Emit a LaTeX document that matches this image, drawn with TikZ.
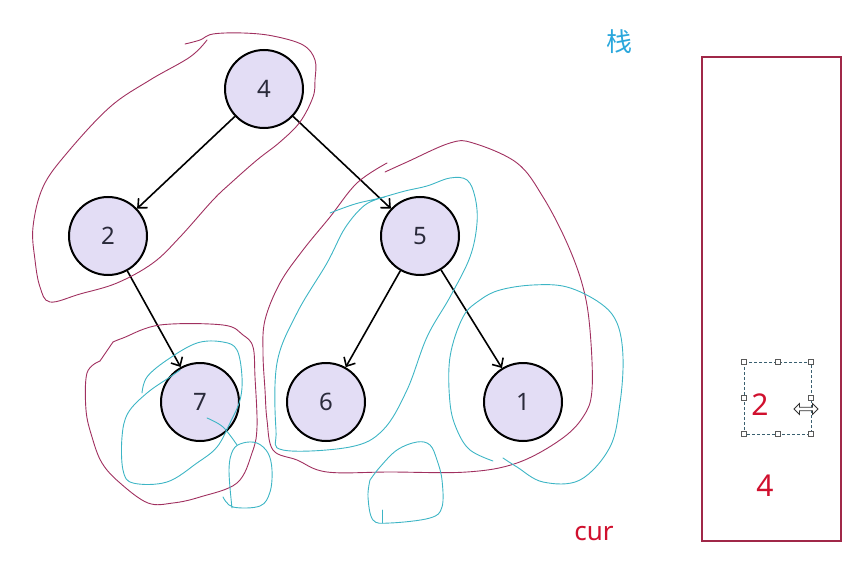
\documentclass[tikz,border=0pt]{standalone}
\usepackage{fontspec}
\setmainfont{Noto Sans}
\newfontfamily\cjk{Noto Sans CJK SC}
\usetikzlibrary{arrows.meta}
\definecolor{nodefill}{HTML}{E3DDF5}
\definecolor{nodetext}{HTML}{2A2A3A}
\definecolor{inkred}{HTML}{A0305F}
\definecolor{inkcyan}{HTML}{3DB5C5}
\definecolor{stackred}{HTML}{A02848}
\definecolor{txtred}{HTML}{D0102E}
\definecolor{txtblue}{HTML}{2AA7DC}
\definecolor{selline}{HTML}{3A6070}
\tikzset{
  tn/.style={circle,draw=black,line width=2pt,fill=nodefill,minimum size=78pt,inner sep=0pt,
    text=nodetext,font=\fontsize{24}{28}\selectfont},
  tedge/.style={line width=1.6pt,-{Straight Barb[length=7pt,width=13pt,line width=1.6pt]}},
  redink/.style={draw=inkred,line width=0.9pt,line join=round,line cap=round},
  cyanink/.style={draw=inkcyan,line width=0.9pt,line join=round,line cap=round},
  handle/.style={draw=gray!70!black,fill=white,line width=0.7pt,minimum size=4.5pt,inner sep=0pt},
  stacktxt/.style={text=txtred,font=\fontsize{30}{34}\selectfont,inner sep=0pt}
}
\begin{document}
\begin{tikzpicture}[x=1pt,y=-1pt]
\useasboundingbox (0,0) rectangle (865,575);
% tree nodes
\node[tn] (n4) at (264,89) {4};
\node[tn] (n2) at (108,236) {2};
\node[tn] (n5) at (420,236) {5};
\node[tn] (n7) at (200,402) {7};
\node[tn] (n6) at (326,402) {6};
\node[tn] (n1) at (523,402) {1};
% edges
\draw[tedge] (n4) -- (n2);
\draw[tedge] (n4) -- (n5);
\draw[tedge] (n2) -- (n7);
\draw[tedge] (n5) -- (n6);
\draw[tedge] (n5) -- (n1);
% freehand: loop around 4 and 2
\draw[redink] plot[smooth,tension=0.6] coordinates {(185,44) (200,40) (213,34) (243,33) (273,36) (303,45) (315,60) (315,80) (313,97) (300,122) (280,142) (257,160) (232,182) (213,200) (180,237) (153,263) (117,283) (80,294) (50,302) (40,287) (35,260) (33,227) (43,187) (67,153) (110,107) (150,80) (190,57) (207,40)};
% loop around 7 (red)
\draw[redink] plot[smooth,tension=0.6] coordinates {(113,342) (123,338) (160,325) (223,325) (243,335) (253,347) (255,377) (257,427) (252,453) (237,483) (200,497) (173,503) (148,503) (120,483) (102,463) (92,437) (86,410) (87,373) (100,361)};
\draw[redink] (100,361) -- (113,342);
% big loop around 5,6,1 (red)
\draw[redink] plot[smooth,tension=0.6] coordinates {(387,163) (357,183) (330,217) (303,250) (280,283) (265,320) (263,353) (265,390) (267,420) (273,450) (297,460) (327,472) (390,472) (467,472) (517,463) (560,440) (583,417) (592,390) (590,330) (583,287) (567,243) (543,197) (517,163) (473,143) (450,143) (407,162) (385,172)};
% cyan loop around 5 and 6
\draw[cyanink] plot[smooth,tension=0.6] coordinates {(330,213) (355,204) (380,198) (405,191) (427,186) (450,178) (467,180) (475,197) (477,223) (470,257) (450,297) (427,337) (407,390) (383,430) (350,447) (283,450) (276,430) (277,363) (297,313) (327,263) (345,228) (365,205) (385,197)};
% cyan loop around 1
\draw[cyanink] plot[smooth,tension=0.6] coordinates {(493,461) (470,450) (457,430) (450,403) (450,357) (463,317) (480,300) (500,290) (533,285) (567,287) (600,303) (617,323) (623,357) (620,403) (610,447) (580,480) (543,482) (517,467) (503,458)};
% small cyan loop bottom
\draw[cyanink] plot[smooth,tension=0.6] coordinates {(370,480) (380,467) (397,450) (417,442) (430,445) (437,460) (442,480) (442,507) (430,518) (390,523) (373,520) (368,497) (370,480)};
\draw[cyanink] (382,510) -- (382,523);
% cyan loops around 7
\draw[cyanink] plot[smooth,tension=0.6] coordinates {(142,393) (147,377) (167,360) (197,343) (223,342) (237,350) (242,377) (240,400) (230,423) (217,447) (197,463) (167,482) (133,483) (123,470) (122,437) (128,413) (147,393) (170,377) (180,370)};
\draw[cyanink] plot[smooth,tension=0.6] coordinates {(207,418) (223,427) (237,445)};
\draw[cyanink] plot[smooth,tension=0.6] coordinates {(223,497) (233,507) (260,506) (270,492) (272,470) (268,453) (257,443) (243,443) (233,450) (229,470) (232,508)};
% stack
\node[text=txtblue,font=\cjk\fontsize{26}{30}\selectfont,inner sep=0pt] (title) at (619,42) {栈};
\draw[stackred,line width=1.2pt] (702,57) rectangle (841,541);
\node[stacktxt] (s2) at (760,405) {2};
\node[stacktxt] (s4) at (765,486) {4};
% selection frame
\coordinate (selA) at (744,362);
\coordinate (selB) at (811,434);
\draw[selline,line width=0.8pt,dash pattern=on 3pt off 2pt] (selA) rectangle (selB);
\foreach \p in {(744,362),(778,362),(811,362),(744,398),(811,398),(744,434),(778,434),(811,434)}
  \node[handle,draw] at \p {};
\draw[fill=white,draw=black!80,line width=0.8pt,line join=miter] (794,409) -- (799.5,403.5) -- (799.5,407.3) -- (812.5,407.3) -- (812.5,403.5) -- (818,409) -- (812.5,414.5) -- (812.5,410.7) -- (799.5,410.7) -- (799.5,414.5) -- cycle;
% cur
\node[text=txtred,font=\fontsize{26}{30}\selectfont,inner sep=0pt] (cur) at (594,534) {cur};
\end{tikzpicture}
\end{document}
